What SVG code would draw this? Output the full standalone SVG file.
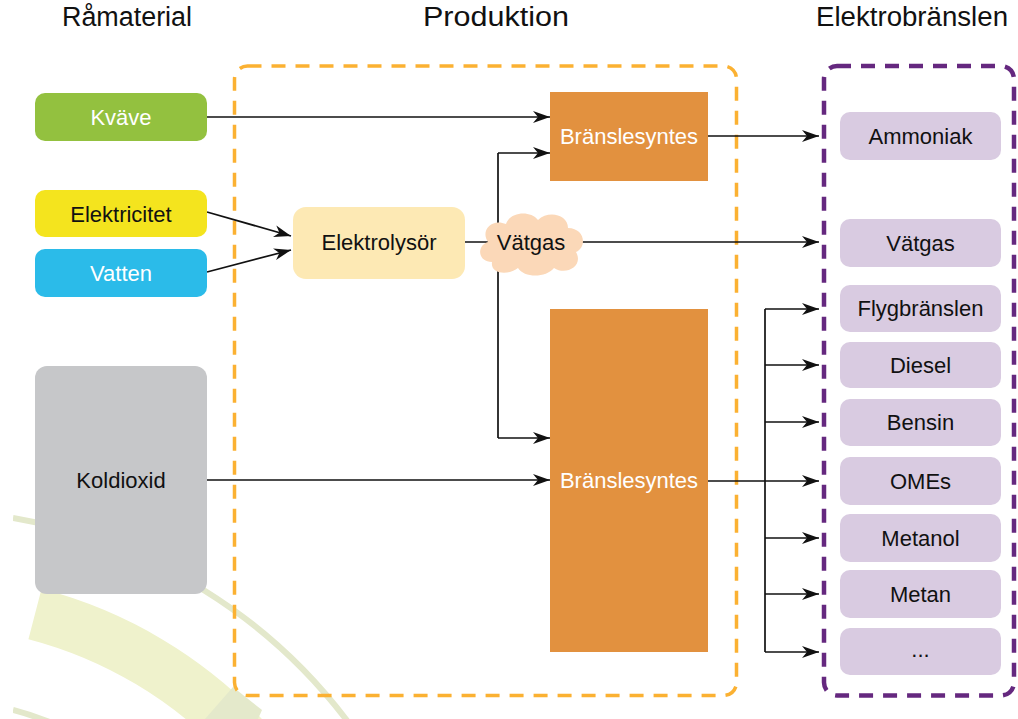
<svg xmlns="http://www.w3.org/2000/svg" width="1018" height="719" viewBox="0 0 1018 719">
  <style>
    text { font-family: "Liberation Sans", Arial, Helvetica, sans-serif; text-anchor: middle; dominant-baseline: central; }
    .hdr { font-size: 27px; fill: #111; }
    .lbl { font-size: 22px; fill: #111; }
    .wht { fill: #ffffff; }
    .edge { fill: none; stroke: #111; stroke-width: 1.7; }
    .arr { marker-end: url(#ah); }
    .prod { fill: #d9cbe1; }
    .syn { fill: #e2913f; }
  </style>
  <defs>
    <marker id="ah" markerUnits="userSpaceOnUse" markerWidth="17" markerHeight="13" refX="17" refY="6.5" orient="auto">
      <path d="M0,0.5 L17,6.5 L0,12.5 L5,6.5 Z" fill="#111"/>
    </marker>
    <clipPath id="bgclip">
      <rect x="13" y="0" width="1005" height="719"/>
    </clipPath>
  </defs>

  <rect width="1018" height="719" fill="#ffffff"/>

  <!-- decorative background arcs -->
  <g id="background" clip-path="url(#bgclip)">
    <path d="M 35 614 A 440 440 0 0 1 246 740" fill="none" stroke="#eff2cc" stroke-width="52"/>
    <polygon points="233,687 262,710 258,719 205,719" fill="#e4e9cb"/>
    <path d="M 13 518 A 530 530 0 0 1 354 730" fill="none" stroke="#e3e8cb" stroke-width="6"/>
    <path d="M 13 710 A 342 342 0 0 1 57 725" fill="none" stroke="#e3e8cb" stroke-width="6"/>
  </g>

  <!-- column headers -->
  <g id="headers">
    <text class="hdr" x="127" y="17" textLength="130" lengthAdjust="spacingAndGlyphs">Råmaterial</text>
    <text class="hdr" x="496" y="17" textLength="146" lengthAdjust="spacingAndGlyphs">Produktion</text>
    <text class="hdr" x="912" y="17" textLength="192" lengthAdjust="spacingAndGlyphs">Elektrobränslen</text>
  </g>

  <!-- group containers -->
  <g id="containers" fill="none">
    <rect id="produktion" x="234.5" y="66" width="502" height="629.5" rx="13" stroke="#fbb132" stroke-width="3.5" stroke-dasharray="14 10"/>
    <rect id="elektrobranslen" x="824" y="66" width="190" height="629.5" rx="13" stroke="#65287f" stroke-width="4.5" stroke-dasharray="14 10"/>
  </g>

  <!-- connectors -->
  <g id="connectors">
    <path class="edge arr" d="M207 117 H550"/>
    <path class="edge arr" d="M207 212 L291 236"/>
    <path class="edge arr" d="M207 272 L291 250"/>
    <path class="edge" d="M465 242 H500"/>
    <path class="edge arr" d="M560 242 H819"/>
    <path class="edge" d="M498 153 V438"/>
    <path class="edge arr" d="M498 153 H550"/>
    <path class="edge arr" d="M498 438 H550"/>
    <path class="edge arr" d="M207 480 H550"/>
    <path class="edge arr" d="M708 136 H819"/>
    <path class="edge arr" d="M708 481 H819"/>
    <path class="edge" d="M765 309 V652"/>
    <path class="edge arr" d="M765 309 H819"/>
    <path class="edge arr" d="M765 365 H819"/>
    <path class="edge arr" d="M765 422 H819"/>
    <path class="edge arr" d="M765 538 H819"/>
    <path class="edge arr" d="M765 594 H819"/>
    <path class="edge arr" d="M765 652 H819"/>
  </g>

  <!-- raw materials -->
  <g id="kvave">
    <rect x="35" y="93" width="172" height="48" rx="10" fill="#93c13f"/>
    <text class="lbl wht" x="121" y="117">Kväve</text>
  </g>
  <g id="elektricitet">
    <rect x="35" y="190" width="172" height="47" rx="10" fill="#f4e41e"/>
    <text class="lbl" x="121" y="214">Elektricitet</text>
  </g>
  <g id="vatten">
    <rect x="35" y="249" width="172" height="48" rx="10" fill="#2bbbe9"/>
    <text class="lbl wht" x="121" y="273">Vatten</text>
  </g>
  <g id="koldioxid">
    <rect x="35" y="366" width="172" height="228" rx="12" fill="#c6c7c9"/>
    <text class="lbl" x="121" y="480">Koldioxid</text>
  </g>

  <!-- production -->
  <g id="elektrolysor">
    <rect x="293" y="207" width="172" height="72" rx="13" fill="#fde9b4"/>
    <text class="lbl" x="379" y="242">Elektrolysör</text>
  </g>
  <g id="vatgas-moln">
    <path d="M492 262 C478 262 476 246 488 242 C480 230 492 218 506 224 C510 212 530 210 538 220 C548 210 568 214 568 228 C584 228 588 246 576 252 C584 266 566 276 554 268 C546 278 524 278 518 268 C508 276 490 274 492 262 Z" fill="#fbd8b8"/>
    <text class="lbl" x="531" y="242">Vätgas</text>
  </g>
  <g id="branslesyntes-1">
    <rect class="syn" x="550" y="92" width="158" height="89"/>
    <text class="lbl wht" x="629" y="136">Bränslesyntes</text>
  </g>
  <g id="branslesyntes-2">
    <rect class="syn" x="550" y="309" width="158" height="343"/>
    <text class="lbl wht" x="629" y="480">Bränslesyntes</text>
  </g>

  <!-- electrofuels -->
  <g id="ammoniak">
    <rect class="prod" x="840" y="112" width="161" height="48" rx="10"/>
    <text class="lbl" x="920.5" y="136">Ammoniak</text>
  </g>
  <g id="vatgas">
    <rect class="prod" x="840" y="219" width="161" height="48" rx="10"/>
    <text class="lbl" x="920.5" y="243">Vätgas</text>
  </g>
  <g id="flygbranslen">
    <rect class="prod" x="840" y="285" width="161" height="47" rx="10"/>
    <text class="lbl" x="920.5" y="308.5">Flygbränslen</text>
  </g>
  <g id="diesel">
    <rect class="prod" x="840" y="342" width="161" height="46" rx="10"/>
    <text class="lbl" x="920.5" y="365">Diesel</text>
  </g>
  <g id="bensin">
    <rect class="prod" x="840" y="399" width="161" height="47" rx="10"/>
    <text class="lbl" x="920.5" y="422.5">Bensin</text>
  </g>
  <g id="omes">
    <rect class="prod" x="840" y="457" width="161" height="48" rx="10"/>
    <text class="lbl" x="920.5" y="481">OMEs</text>
  </g>
  <g id="metanol">
    <rect class="prod" x="840" y="514" width="161" height="48" rx="10"/>
    <text class="lbl" x="920.5" y="538">Metanol</text>
  </g>
  <g id="metan">
    <rect class="prod" x="840" y="570" width="161" height="48" rx="10"/>
    <text class="lbl" x="920.5" y="594">Metan</text>
  </g>
  <g id="ovriga">
    <rect class="prod" x="840" y="628" width="161" height="47" rx="10"/>
    <text class="lbl" x="920.5" y="649">...</text>
  </g>
</svg>
